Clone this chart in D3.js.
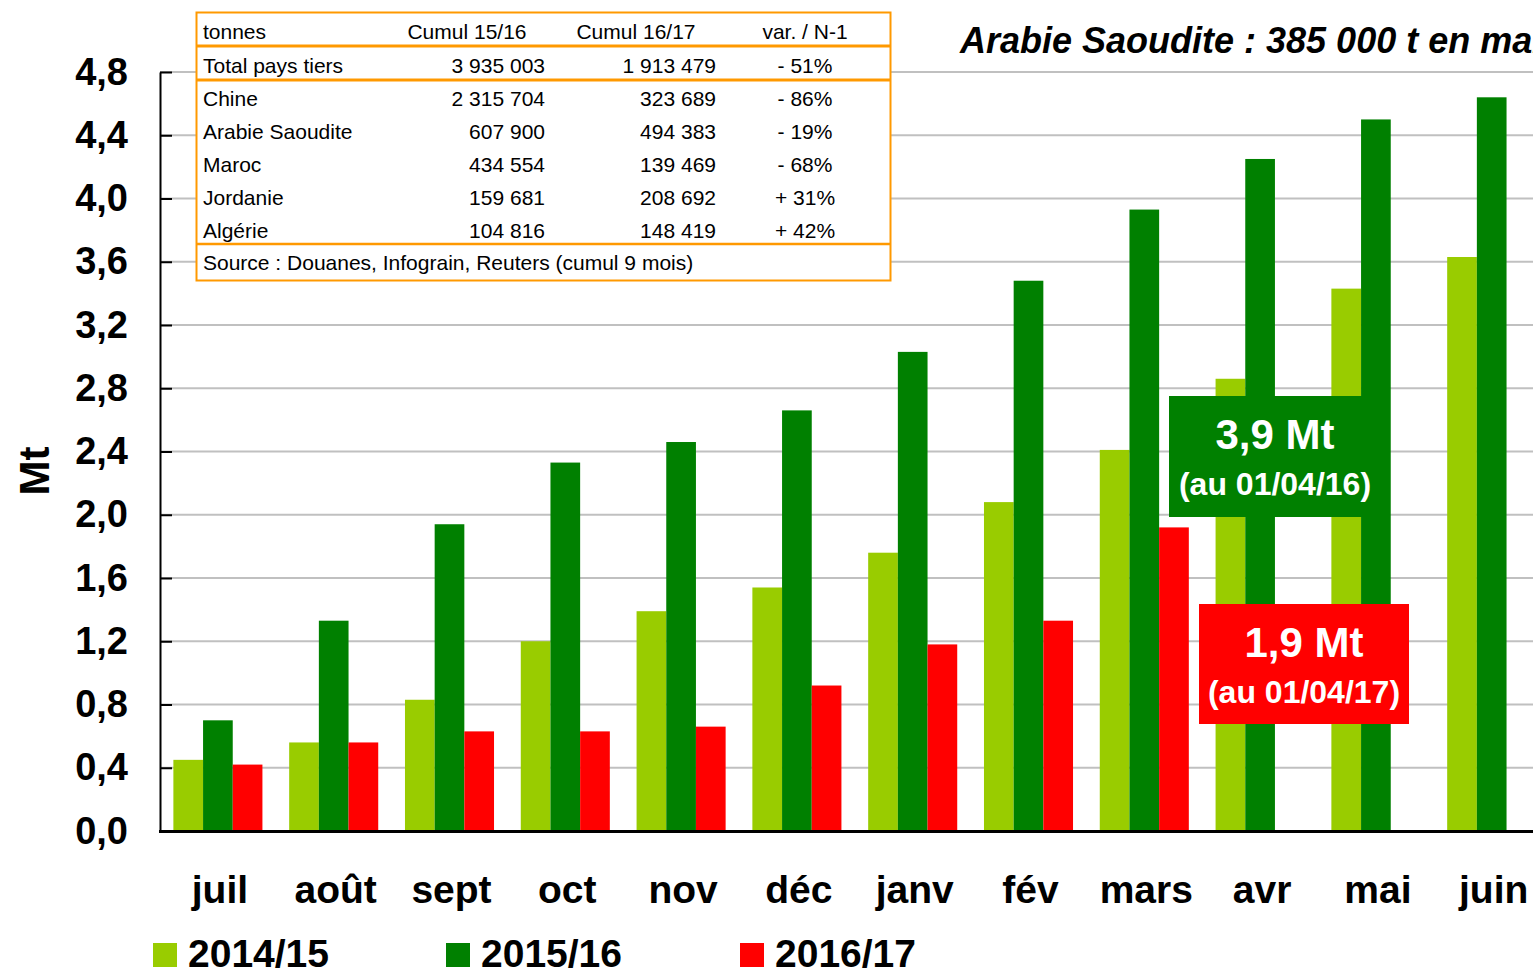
<!DOCTYPE html>
<html>
<head>
<meta charset="utf-8">
<title>Exportations cumulées de blé</title>
<style>
  body { margin: 0; background: #fff; }
  svg { display: block; font-family: "Liberation Sans", Arial, sans-serif; }
</style>
</head>
<body>
<svg width="1533" height="971"></svg>
<script src="https://cdn.jsdelivr.net/npm/d3@7"></script>
<script>

// --- data (Mt, cumulative) ---
var months = ["juil", "août", "sept", "oct", "nov", "déc", "janv", "fév", "mars", "avr", "mai", "juin"];
var seriesNames = ["2014/15", "2015/16", "2016/17"];
var s1415 = [0.45, 0.56, 0.83, 1.20, 1.39, 1.54, 1.76, 2.08, 2.41, 2.86, 3.43, 3.63];
var s1516 = [0.70, 1.33, 1.94, 2.33, 2.46, 2.66, 3.03, 3.48, 3.93, 4.25, 4.50, 4.64];
var s1617 = [0.42, 0.56, 0.63, 0.63, 0.66, 0.92, 1.18, 1.33, 1.92, null, null, null];
var yTicks = [0, 0.4, 0.8, 1.2, 1.6, 2.0, 2.4, 2.8, 3.2, 3.6, 4.0, 4.4, 4.8];

// table in the top-left corner
var tableHeader = ["tonnes", "Cumul 15/16", "Cumul 16/17", "var. / N-1"];
var tableTotal = ["Total pays tiers", "3 935 003", "1 913 479", "- 51%"];
var tableRows = [
  ["Chine", "2 315 704", "323 689", "- 86%"],
  ["Arabie Saoudite", "607 900", "494 383", "- 19%"],
  ["Maroc", "434 554", "139 469", "- 68%"],
  ["Jordanie", "159 681", "208 692", "+ 31%"],
  ["Algérie", "104 816", "148 419", "+ 42%"]
];
var tableSource = "Source : Douanes, Infograin, Reuters (cumul 9 mois)";

var titleText = "Arabie Saoudite : 385 000 t en mars";
var notes = [
  { big: "3,9 Mt", small: "(au 01/04/16)", color: "#008000" },
  { big: "1,9 Mt", small: "(au 01/04/17)", color: "#ff0000" }
];

var colors = ["#99cc00", "#008000", "#ff0000"];
var orange = "#ff9900";

var svg = d3.select("svg"),
    width = +svg.attr("width"),
    height = +svg.attr("height");

var plotLeft = 160, plotBottom = 831, plotTop = 72;
var step = 115.8;

var x = d3.scaleBand()
    .domain(months)
    .range([plotLeft, plotLeft + step * months.length])
    .paddingInner(0.231)
    .paddingOuter(0.1155);

var x1 = d3.scaleBand()
    .domain(seriesNames)
    .range([0, x.bandwidth()]);

var y = d3.scaleLinear()
    .domain([0, 4.8])
    .range([plotBottom, plotTop]);

var color = d3.scaleOrdinal().domain(seriesNames).range(colors);

var fmt = function(d) { return d3.format(".1f")(d).replace(".", ","); };

// gridlines
svg.append("g")
  .selectAll("line")
  .data(yTicks.filter(function(d) { return d > 0; }))
  .enter().append("line")
    .attr("x1", plotLeft)
    .attr("x2", width)
    .attr("y1", function(d) { return y(d); })
    .attr("y2", function(d) { return y(d); })
    .attr("stroke", "#c0c0c0")
    .attr("stroke-width", 2);

// bars
var rows = months.map(function(m, i) {
  return { month: m, values: [s1415[i], s1516[i], s1617[i]] };
});

svg.append("g")
  .selectAll("g")
  .data(rows)
  .enter().append("g")
    .attr("transform", function(d) { return "translate(" + x(d.month) + ",0)"; })
  .selectAll("rect")
  .data(function(d) {
    return d.values.map(function(v, k) { return { key: seriesNames[k], value: v }; })
      .filter(function(e) { return e.value != null; });
  })
  .enter().append("rect")
    .attr("x", function(d) { return x1(d.key); })
    .attr("width", x1.bandwidth())
    .attr("y", function(d) { return y(d.value); })
    .attr("height", function(d) { return y(0) - y(d.value); })
    .attr("fill", function(d) { return color(d.key); });

// y axis
var yAxis = svg.append("g")
    .attr("transform", "translate(" + plotLeft + ",0)")
    .call(d3.axisLeft(y).tickValues(yTicks).tickFormat(fmt).tickSizeInner(-12).tickSizeOuter(0).tickPadding(32));
yAxis.select(".domain").attr("stroke", "#000").attr("stroke-width", 2);
yAxis.selectAll(".tick line").attr("stroke", "#000").attr("stroke-width", 2);
yAxis.selectAll(".tick text")
    .attr("font-family", "'Liberation Sans', Arial, sans-serif")
    .attr("font-size", 38)
    .attr("font-weight", "bold")
    .attr("fill", "#000");

svg.append("line")
    .attr("x1", plotLeft - 1)
    .attr("x2", width)
    .attr("y1", plotBottom + 0.5)
    .attr("y2", plotBottom + 0.5)
    .attr("stroke", "#000")
    .attr("stroke-width", 3);

svg.append("text")
    .attr("transform", "translate(49,471) rotate(-90)")
    .attr("text-anchor", "middle")
    .attr("font-size", 42)
    .attr("font-weight", "bold")
    .text("Mt");

// month labels
svg.append("g")
  .selectAll("text")
  .data(months)
  .enter().append("text")
    .attr("x", function(d) { return x(d) + x.bandwidth() / 2 + 2; })
    .attr("y", 903)
    .attr("text-anchor", "middle")
    .attr("font-size", 39)
    .attr("font-weight", "bold")
    .text(function(d) { return d; });

// legend
var legendX = [153, 446, 740];
var legend = svg.append("g")
  .selectAll("g")
  .data(seriesNames)
  .enter().append("g")
    .attr("transform", function(d, i) { return "translate(" + legendX[i] + ",943)"; });
legend.append("rect")
    .attr("width", 24)
    .attr("height", 24)
    .attr("fill", function(d) { return color(d); });
legend.append("text")
    .attr("x", 35)
    .attr("y", 24)
    .attr("font-size", 39)
    .attr("font-weight", "bold")
    .text(function(d) { return d; });

// table
var tb = svg.append("g").attr("font-size", 21);
tb.append("rect")
    .attr("x", 196.5).attr("y", 12.5)
    .attr("width", 694).attr("height", 268)
    .attr("fill", "#fff")
    .attr("stroke", orange)
    .attr("stroke-width", 2);
[[46, 3], [80, 3], [244, 2.5]].forEach(function(l) {
  tb.append("line")
      .attr("x1", 196).attr("x2", 891)
      .attr("y1", l[0]).attr("y2", l[0])
      .attr("stroke", orange)
      .attr("stroke-width", l[1]);
});

var colX = [203, 545, 716, 805];
var colAnchor = ["start", "end", "end", "middle"];
var headX = [203, 467, 636, 805];
var headAnchor = ["start", "middle", "middle", "middle"];

tb.selectAll("text.head")
  .data(tableHeader)
  .enter().append("text")
    .attr("x", function(d, i) { return headX[i]; })
    .attr("y", 39)
    .attr("text-anchor", function(d, i) { return headAnchor[i]; })
    .text(function(d) { return d; });

var bodyRows = [tableTotal].concat(tableRows);
bodyRows.forEach(function(r, j) {
  var yy = 73 + j * 33;
  tb.append("g").selectAll("text")
    .data(r)
    .enter().append("text")
      .attr("x", function(d, i) { return colX[i]; })
      .attr("y", yy)
      .attr("text-anchor", function(d, i) { return colAnchor[i]; })
      .text(function(d) { return d; });
});

tb.append("text")
    .attr("x", 203)
    .attr("y", 270)
    .text(tableSource);

// title
svg.append("text")
    .attr("x", 960)
    .attr("y", 53)
    .attr("font-size", 36)
    .attr("font-weight", "bold")
    .attr("font-style", "italic")
    .text(titleText);

// annotation boxes (text centre can sit off the box centre, as in the source)
var boxes = [
  { x: 1169, y: 396, w: 193, h: 121, cx: 1275 },
  { x: 1199, y: 604, w: 210, h: 120, cx: 1304 }
];
boxes.forEach(function(b, i) {
  var n = notes[i];
  var g = svg.append("g");
  g.append("rect")
      .attr("x", b.x).attr("y", b.y)
      .attr("width", b.w).attr("height", b.h)
      .attr("fill", n.color);
  g.append("text")
      .attr("x", b.cx)
      .attr("y", b.y + 53)
      .attr("text-anchor", "middle")
      .attr("fill", "#fff")
      .attr("font-size", 42)
      .attr("font-weight", "bold")
      .text(n.big);
  g.append("text")
      .attr("x", b.cx)
      .attr("y", b.y + 99)
      .attr("text-anchor", "middle")
      .attr("fill", "#fff")
      .attr("font-size", 32)
      .attr("font-weight", "bold")
      .text(n.small);
});

</script>
</body>
</html>
